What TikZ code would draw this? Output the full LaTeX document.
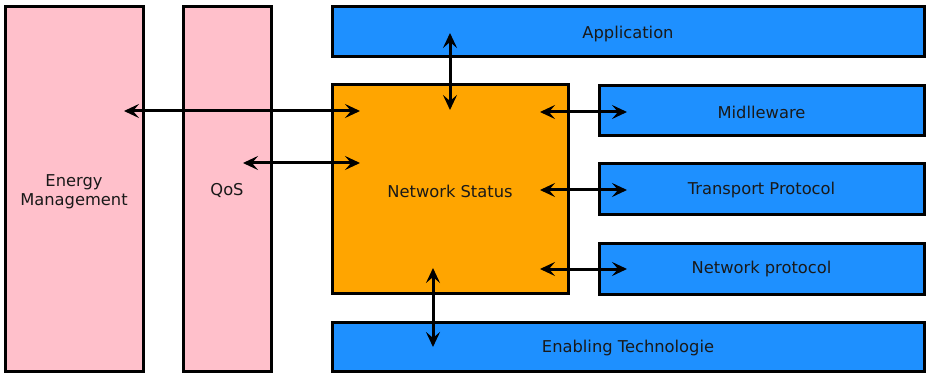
\documentclass[tikz,border=0pt]{standalone}
\usepackage{fontspec}
\setmainfont{DejaVu Sans}
\usetikzlibrary{arrows.meta}
\definecolor{pinkfill}{HTML}{FFC0CB}
\definecolor{bluefill}{HTML}{1E90FF}
\definecolor{orangefill}{HTML}{FFA500}
\newcommand{\dn}[2]{\raisebox{-#1}[\height][\depth]{#2}}
\begin{document}
\begin{tikzpicture}[x=1pt,y=-1pt,
  box/.style={draw=black,line width=3pt,inner sep=0pt,font=\fontsize{16.3}{20.5}\selectfont,align=center,text=black!90},
  pinkbox/.style={box,fill=pinkfill},
  bluebox/.style={box,fill=bluefill},
  orangebox/.style={box,fill=orangefill},
  arr/.style={line width=3pt,{Stealth[length=15pt,width=14pt,inset=6pt]}-{Stealth[length=15pt,width=14pt,inset=6pt]}}]
\useasboundingbox (0,0) rectangle (926,374);
\node[pinkbox,minimum width=138pt,minimum height=364pt] (em) at (74,189) {\dn{3pt}{\shortstack{Energy\\[1pt]Management}}};
\node[pinkbox,minimum width=88pt,minimum height=364pt] (qos) at (227,189) {\dn{2pt}{QoS}};
\node[bluebox,minimum width=592pt,minimum height=50pt] (app) at (628,32) {\dn{2pt}{Application}};
\node[orangebox,minimum width=236pt,minimum height=208pt] (ns) at (450,189) {\dn{2pt}{Network Status}};
\node[bluebox,minimum width=325pt,minimum height=50pt] (mid) at (761.5,111) {\dn{1pt}{Midlleware}};
\node[bluebox,minimum width=325pt,minimum height=51pt] (tp) at (761.5,189.5) {\dn{1pt}{Transport Protocol}};
\node[bluebox,minimum width=325pt,minimum height=51pt] (np) at (761.5,268.5) {\dn{1pt}{Network protocol}};
\node[bluebox,minimum width=592pt,minimum height=49pt] (et) at (628,346.5) {\dn{2pt}{Enabling Technologie}};
% arrow end points
\coordinate (emA) at (124,111);
\coordinate (nsA) at (360,111);
\coordinate (qosA) at (243,163);
\coordinate (nsB) at (360,163);
\coordinate (appA) at (450,33);
\coordinate (nsC) at (450,110);
\coordinate (nsD) at (540,112);
\coordinate (midA) at (627,112);
\coordinate (nsE) at (540,190);
\coordinate (tpA) at (627,190);
\coordinate (nsF) at (540,269);
\coordinate (npA) at (627,269);
\coordinate (nsG) at (433,268);
\coordinate (etA) at (433,347);
\draw[arr] (emA) -- (nsA);
\draw[arr] (qosA) -- (nsB);
\draw[arr] (appA) -- (nsC);
\draw[arr] (nsD) -- (midA);
\draw[arr] (nsE) -- (tpA);
\draw[arr] (nsF) -- (npA);
\draw[arr] (nsG) -- (etA);
\end{tikzpicture}
\end{document}
